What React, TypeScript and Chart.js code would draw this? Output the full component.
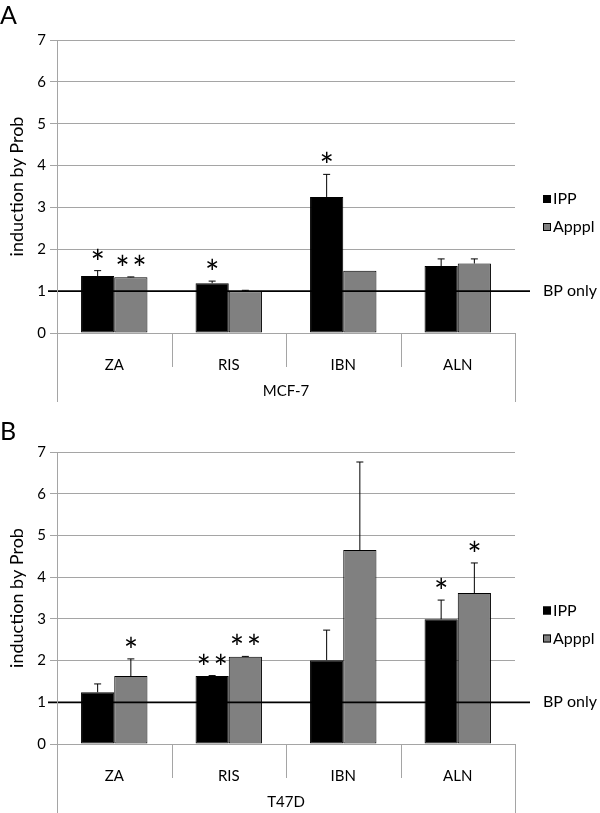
import React, { useEffect, useRef } from 'react';
import { Chart, registerables } from 'chart.js';

Chart.register(...registerables);

// ---------- data ----------
const categories = ['ZA', 'RIS', 'IBN', 'ALN'];
const seriesLabels = ['IPP', 'Apppl'];
const seriesColors = ['#000000', '#808080'];
const yTickValues = [0, 1, 2, 3, 4, 5, 6, 7];
const baselineValue = 1;
const baselineLabel = 'BP only';
const axisTitle = 'induction by Prob';

const mcf7Ipp = [1.36, 1.19, 3.25, 1.6];
const mcf7IppErr = [0.13, 0.05, 0.54, 0.17];
const mcf7Apppl = [1.33, 1.0, 1.49, 1.66];
const mcf7AppplErr = [0.01, 0.02, 0.0, 0.11];
const mcf7IppStars = ['*', '*', '*', ''];
const mcf7AppplStars = ['**', '', '', ''];

const t47dIpp = [1.24, 1.63, 2.01, 2.99];
const t47dIppErr = [0.2, 0.01, 0.72, 0.46];
const t47dApppl = [1.63, 2.09, 4.65, 3.62];
const t47dAppplErr = [0.41, 0.01, 2.11, 0.72];
const t47dIppStars = ['', '**', '', '*'];
const t47dAppplStars = ['*', '**', '', '*'];

const FONT = 'Lato, "Open Sans", sans-serif';
const GRID = '#a5a5a5';

type PanelProps = {
  letter: string;
  group: string;
  ipp: number[];
  ippErr: number[];
  apppl: number[];
  appplErr: number[];
  ippStars: string[];
  appplStars: string[];
  height: number;
  padTop: number;
  xAxisHeight: number;
  letterY: number;
};

function Panel(p: PanelProps) {
  const ref = useRef<HTMLCanvasElement | null>(null);

  useEffect(() => {
    const canvas = ref.current;
    if (!canvas) return;
    const errors = [p.ippErr, p.appplErr];
    const stars = [p.ippStars, p.appplStars];

    const decor = {
      id: 'panelDecor',
      afterDatasetsDraw(chart: any) {
        const ctx = chart.ctx;
        const ys = chart.scales.y;
        const area = chart.chartArea;
        ctx.save();
        // error bars + stars
        chart.data.datasets.forEach((ds: any, di: number) => {
          const meta = chart.getDatasetMeta(di);
          meta.data.forEach((bar: any, i: number) => {
            const v = ds.data[i];
            const e = errors[di][i];
            const top = ys.getPixelForValue(v + e);
            if (e > 0) {
              ctx.strokeStyle = '#000';
              ctx.lineWidth = 1;
              ctx.beginPath();
              ctx.moveTo(bar.x, bar.y);
              ctx.lineTo(bar.x, top);
              ctx.moveTo(bar.x - 3.5, top);
              ctx.lineTo(bar.x + 3.5, top);
              ctx.stroke();
            }
            const s = stars[di][i];
            if (s) {
              ctx.fillStyle = '#000';
              ctx.font = '34px ' + FONT;
              ctx.textAlign = 'center';
              ctx.textBaseline = 'alphabetic';
              const m = ctx.measureText('*');
              const glyphMid = (m.actualBoundingBoxAscent - m.actualBoundingBoxDescent) / 2;
              const cy = top - 17;
              const chars = s.split('');
              const gap = 17;
              const x0 = bar.x - ((chars.length - 1) * gap) / 2;
              chars.forEach((c, k) => ctx.fillText(c, x0 + k * gap, cy + glyphMid));
            }
          });
        });
        // baseline
        const by = ys.getPixelForValue(baselineValue);
        ctx.strokeStyle = '#000';
        ctx.lineWidth = 1.8;
        ctx.beginPath();
        ctx.moveTo(area.left - 9, by);
        ctx.lineTo(area.right + 15, by);
        ctx.stroke();
        ctx.restore();
      },
      afterDraw(chart: any) {
        const ctx = chart.ctx;
        const xs = chart.scales.x;
        const area = chart.chartArea;
        ctx.save();
        // category table
        ctx.strokeStyle = GRID;
        ctx.lineWidth = 1;
        const step = (xs.right - xs.left) / categories.length;
        ctx.beginPath();
        for (let i = 1; i < categories.length; i++) {
          const x = Math.round(xs.left + i * step) + 0.5;
          ctx.moveTo(x, area.bottom);
          ctx.lineTo(x, area.bottom + 34);
        }
        ctx.moveTo(Math.round(xs.left) + 0.5, area.top);
        ctx.lineTo(Math.round(xs.left) + 0.5, area.bottom + 69);
        ctx.moveTo(Math.round(xs.right) + 0.5, area.bottom);
        ctx.lineTo(Math.round(xs.right) + 0.5, area.bottom + 69);
        ctx.stroke();
        // group label
        ctx.fillStyle = '#000';
        ctx.font = '15px ' + FONT;
        ctx.textAlign = 'center';
        ctx.textBaseline = 'middle';
        ctx.fillText(p.group, (xs.left + xs.right) / 2, area.bottom + 58);
        // legend
        const ys = chart.scales.y;
        const mid = (area.top + area.bottom) / 2 + 12.5;
        seriesLabels.forEach((lab, i) => {
          const cy = mid + i * 28;
          ctx.fillStyle = seriesColors[i];
          ctx.fillRect(543, cy - 4, 8, 8);
          ctx.strokeStyle = '#000';
          ctx.lineWidth = 1;
          ctx.strokeRect(543.5, cy - 3.5, 7, 7);
          ctx.fillStyle = '#000';
          ctx.font = '16px ' + FONT;
          ctx.textAlign = 'left';
          ctx.textBaseline = 'middle';
          ctx.fillText(lab, 553, cy);
        });
        ctx.fillText(baselineLabel, 543, ys.getPixelForValue(baselineValue));
        // panel letter
        ctx.font = '25px ' + FONT;
        ctx.textAlign = 'left';
        ctx.fillText(p.letter, 0, p.letterY);
        ctx.restore();
      },
    };

    const chart = new Chart(canvas, {
      type: 'bar',
      data: {
        labels: categories,
        datasets: [
          {
            label: seriesLabels[0],
            data: p.ipp,
            backgroundColor: seriesColors[0],
            borderColor: '#000',
            borderWidth: 1,
            borderSkipped: false,
          },
          {
            label: seriesLabels[1],
            data: p.apppl,
            backgroundColor: seriesColors[1],
            borderColor: '#000',
            borderWidth: 1,
            borderSkipped: false,
          },
        ],
      },
      options: {
        responsive: false,
        animation: false,
        layout: { padding: { top: p.padTop, right: 85, left: 0, bottom: 0 } },
        datasets: { bar: { categoryPercentage: 0.58, barPercentage: 1.0 } },
        plugins: { legend: { display: false }, tooltip: { enabled: false } },
        scales: {
          x: {
            grid: { display: false },
            border: { display: false },
            ticks: { color: '#000', font: { family: FONT, size: 15 }, padding: 15, maxRotation: 0 },
            afterFit: (s: any) => {
              s.height = p.xAxisHeight;
            },
          },
          y: {
            min: 0,
            max: 7,
            afterBuildTicks: (s: any) => {
              s.ticks = yTickValues.map((v) => ({ value: v }));
            },
            grid: { color: GRID, lineWidth: 1, tickLength: 7 },
            border: { display: false },
            ticks: { color: '#000', font: { family: FONT, size: 15 }, padding: 4 },
            title: {
              display: true,
              text: axisTitle,
              color: '#000',
              font: { family: FONT, size: 18 },
              padding: { top: 6, bottom: 0 },
            },
            afterFit: (s: any) => {
              s.width = 57;
            },
          },
        },
      },
      plugins: [decor],
    });
    return () => chart.destroy();
  }, []);

  return <canvas ref={ref} width={600} height={p.height} style={{ display: 'block', width: 600, height: p.height }} />;
}

export default function App() {
  return (
    <div style={{ position: 'absolute', left: 0, top: 0, width: 600, height: 813, background: '#fff' }}>
      <Panel
        letter="A"
        group="MCF-7"
        ipp={mcf7Ipp}
        ippErr={mcf7IppErr}
        apppl={mcf7Apppl}
        appplErr={mcf7AppplErr}
        ippStars={mcf7IppStars}
        appplStars={mcf7AppplStars}
        height={406}
        padTop={40}
        xAxisHeight={73}
        letterY={16}
      />
      <Panel
        letter="B"
        group="T47D"
        ipp={t47dIpp}
        ippErr={t47dIppErr}
        apppl={t47dApppl}
        appplErr={t47dAppplErr}
        ippStars={t47dIppStars}
        appplStars={t47dAppplStars}
        height={407}
        padTop={46}
        xAxisHeight={69}
        letterY={26}
      />
    </div>
  );
}
